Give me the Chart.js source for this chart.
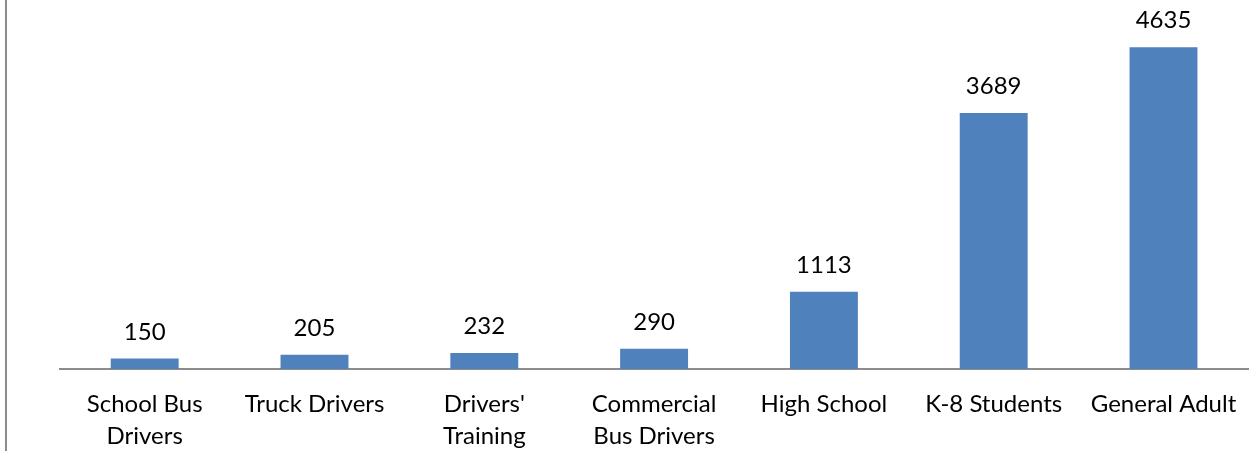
<!DOCTYPE html>
<html>
<head>
<meta charset="utf-8">
<script src="https://cdn.jsdelivr.net/npm/chart.js@4"></script>
<style>
  html, body { margin: 0; padding: 0; background: #fff; }
  #wrap { width: 1250px; height: 451px; position: relative; }
</style>
</head>
<body>
<div id="wrap"><canvas id="chart"></canvas></div>
<script>
// ===== Data =====
const categories = [
  ['School Bus', 'Drivers'],
  'Truck Drivers',
  ['Drivers\'', 'Training'],
  ['Commercial', 'Bus Drivers'],
  'High School',
  'K-8 Students',
  'General Adult'
];
const counts = [150, 205, 232, 290, 1113, 3689, 4635];
const yMax = 5000;

const FONT = 'Lato, "Open Sans", sans-serif';

// ===== Value labels above the bars =====
const valueLabels = {
  id: 'valueLabels',
  afterDatasetsDraw(chart) {
    const ctx = chart.ctx;
    const meta = chart.getDatasetMeta(0);
    ctx.save();
    ctx.font = '24px ' + FONT;
    ctx.fillStyle = '#000';
    ctx.textAlign = 'center';
    ctx.textBaseline = 'alphabetic';
    meta.data.forEach((bar, i) => {
      ctx.fillText(String(counts[i]), bar.x, bar.y - 19);
    });
    ctx.restore();
  }
};

// ===== Left frame line =====
const leftFrame = {
  id: 'leftFrame',
  afterDraw(chart) {
    const ctx = chart.ctx;
    ctx.save();
    ctx.strokeStyle = '#8c8c8c';
    ctx.lineWidth = 2;
    ctx.beginPath();
    ctx.moveTo(6, 0);
    ctx.lineTo(6, chart.height);
    ctx.stroke();
    ctx.restore();
  }
};

// ===== Chart =====
const ctx = document.getElementById('chart').getContext('2d');
new Chart(ctx, {
  type: 'bar',
  data: {
    labels: categories,
    datasets: [{
      data: counts,
      backgroundColor: '#4f81bd',
      categoryPercentage: 1,
      barPercentage: 0.4
    }]
  },
  options: {
    responsive: true,
    maintainAspectRatio: false,
    animation: false,
    layout: { padding: { left: 59.8, right: 1.6, top: 22, bottom: 0 } },
    plugins: {
      legend: { display: false },
      tooltip: { enabled: false }
    },
    scales: {
      x: {
        grid: { display: false, drawTicks: false },
        border: { display: true, color: '#8c8c8c', width: 2 },
        ticks: {
          color: '#000',
          padding: 20,
          maxRotation: 0,
          autoSkip: false,
          font: { family: FONT, size: 24, lineHeight: 1.31 }
        },
        afterFit(scale) {
          scale.height = 82;
          scale.paddingLeft = 0;
          scale.paddingRight = 0;
        }
      },
      y: {
        display: false,
        min: 0,
        max: yMax
      }
    }
  },
  plugins: [valueLabels, leftFrame]
});
</script>
</body>
</html>
